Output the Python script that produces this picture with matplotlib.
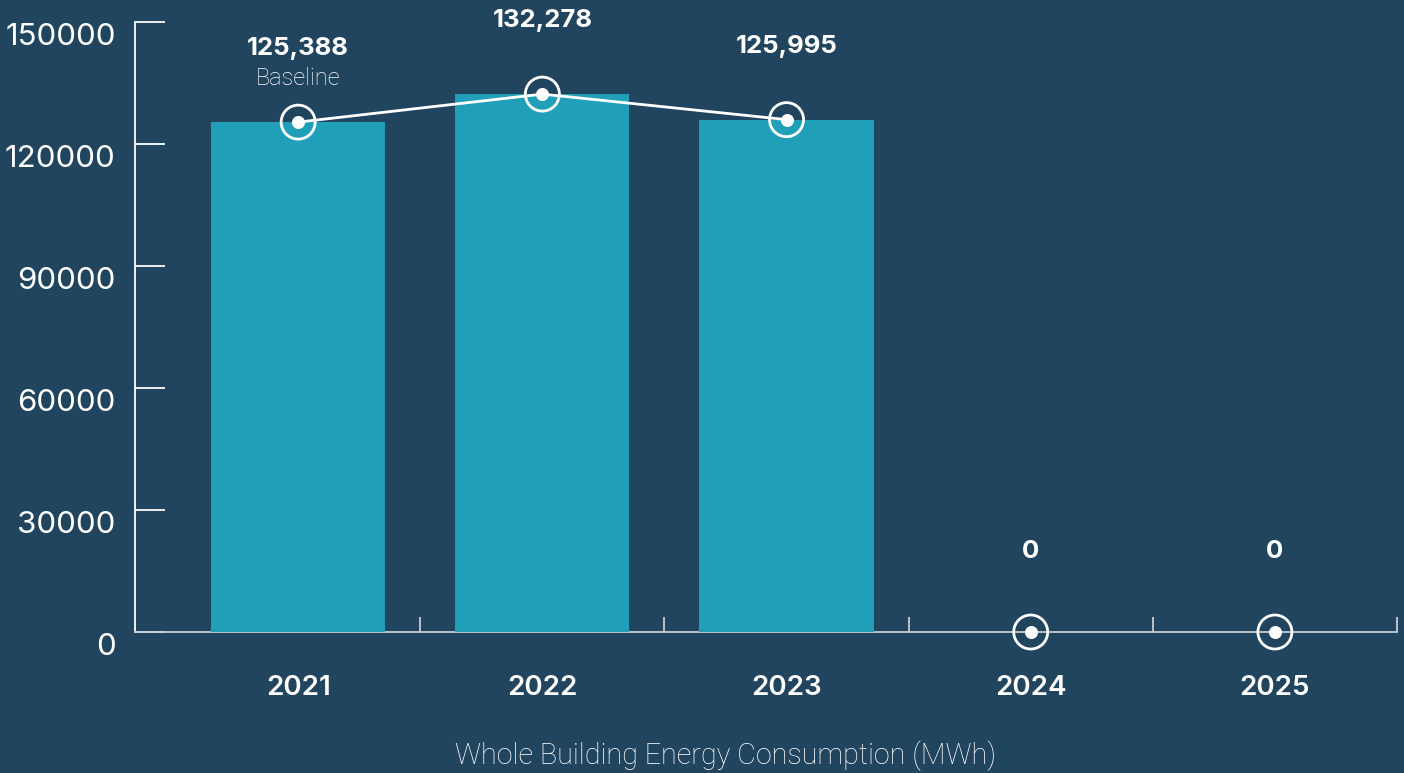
import numpy as np
import matplotlib
matplotlib.use("Agg")
import matplotlib.pyplot as plt
from matplotlib.transforms import ScaledTranslation

years = ["2021", "2022", "2023", "2024", "2025"]
consumption = [125388, 132278, 125995, 0, 0]
value_labels = ["125,388", "132,278", "125,995", "0", "0"]
bar_years = 3  # only first three years have bars / connected line
yticks = [0, 30000, 60000, 90000, 120000, 150000]

bg = "#21445f"
bar_col = "#1f9fb8"
num_font = "Inter"
light_font = "Roboto"

fig = plt.figure(figsize=(14.04, 7.73), dpi=100, facecolor=bg)
ax = fig.add_axes([0.0962, 0.1824, 0.8988, 0.7891], facecolor=bg)

x = np.arange(len(years))
ax.bar(x[:bar_years], consumption[:bar_years], width=0.713, color=bar_col, zorder=3)

ax.plot(x[:bar_years], consumption[:bar_years], color="white", lw=2, zorder=4)
ax.scatter(x, consumption, s=600, facecolors="none", edgecolors="white",
           linewidths=2, zorder=5, clip_on=False)
ax.scatter(x, consumption, s=70, color="white", zorder=6, clip_on=False)

for xi, v, lab in zip(x, consumption, value_labels):
    dy = 48 if v else 53
    ax.annotate(lab, (xi, v), xytext=(0, dy), textcoords="offset points",
                ha="center", va="baseline", color="white", fontsize=18.5,
                fontweight="bold", family=num_font)
ax.annotate("Baseline", (x[0], consumption[0]), xytext=(0, 27),
            textcoords="offset points", ha="center", va="baseline",
            color="white", fontsize=17, fontweight="light", family=light_font)

ax.set_xlim(-0.668, 4.5)
ax.set_ylim(0, 150000)

ax.set_yticks(yticks)
ax.set_yticklabels([str(t) for t in yticks], fontsize=22.5, color="white",
                   family=num_font)
ax.tick_params(axis="y", direction="in", length=21.6, width=1.3, color="white",
               pad=14)
off = ScaledTranslation(0, -12 / 100, fig.dpi_scale_trans)
for lab in ax.get_yticklabels():
    lab.set_transform(lab.get_transform() + off)

ax.set_xticks(x)
ax.set_xticklabels(years, fontsize=20, color="white", fontweight="semibold",
                   family=num_font)
ax.set_xticks(list(x + 0.5), minor=True)
ax.tick_params(axis="x", which="major", length=0, pad=31)
ax.tick_params(axis="x", which="minor", direction="in", length=10.8,
               width=1.3, color="#c3ccd4")

for s in ["top", "right"]:
    ax.spines[s].set_visible(False)
ax.spines["left"].set_color("white")
ax.spines["left"].set_linewidth(1.3)
ax.spines["bottom"].set_color("#c3ccd4")
ax.spines["bottom"].set_linewidth(1.3)

fig.text(0.517, 0.022, "Whole Building Energy Consumption (MWh)", ha="center",
         va="center", color="white", fontsize=20.7, fontweight="light",
         family=light_font)

fig.savefig("out.png", dpi=100, facecolor=bg)
